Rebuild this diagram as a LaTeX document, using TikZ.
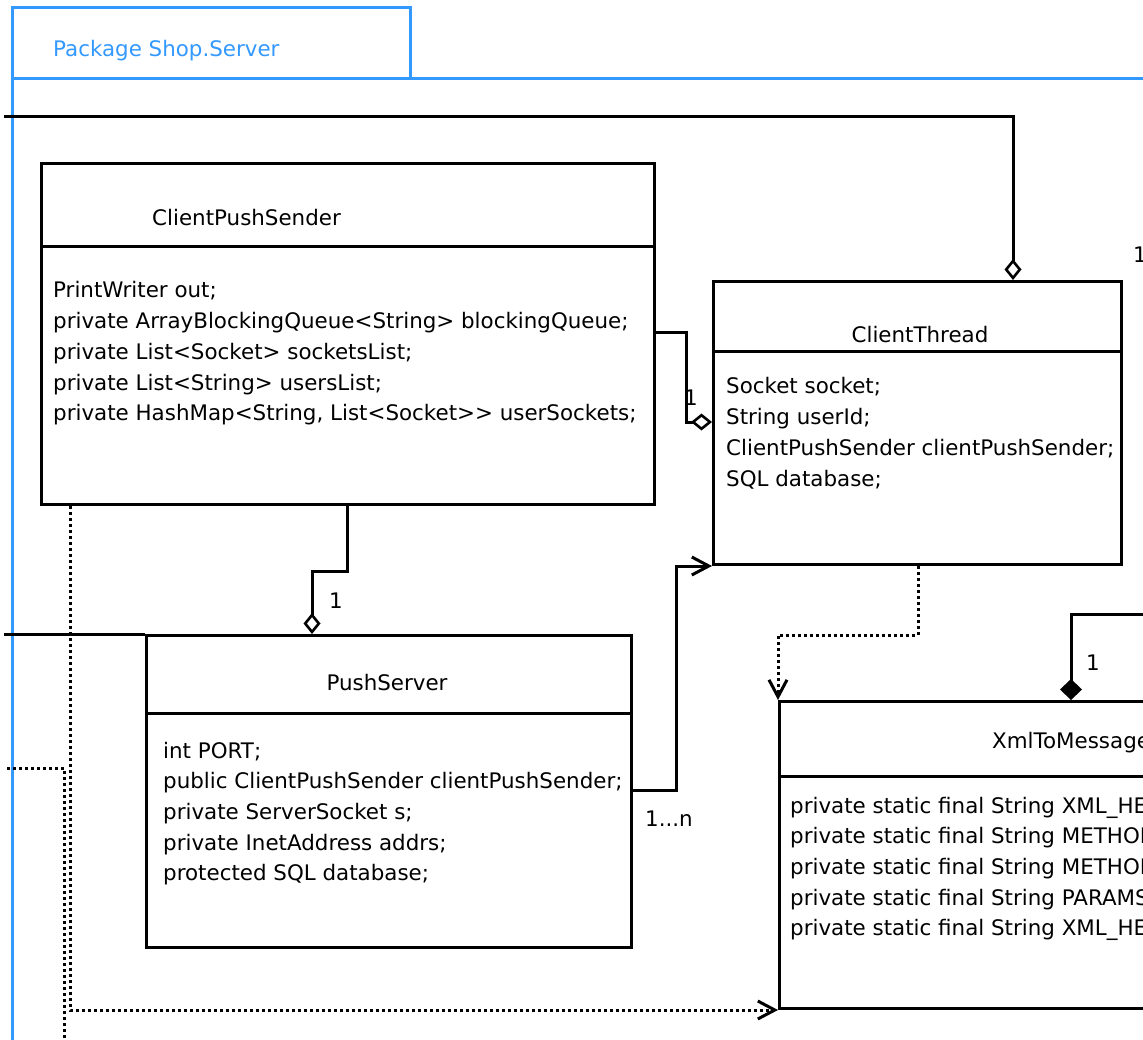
\documentclass[tikz,border=0pt]{standalone}
\usepackage{fontspec}
\setmainfont{DejaVu Sans}
\usetikzlibrary{arrows.meta,calc}
\definecolor{pkgblue}{HTML}{3399FF}
\newcommand{\attrlines}[1]{\begin{tabular}[t]{@{}l@{}}#1\end{tabular}}
\begin{document}
\begin{tikzpicture}[x=1pt,y=-1pt,
  font=\fontsize{21.4}{30.7}\selectfont,
  pkg/.style={draw=pkgblue, line width=3pt},
  umlline/.style={draw=black, line width=3pt},
  classbox/.style={draw=black, line width=3pt, anchor=north west, inner sep=0pt},
  txt/.style={anchor=base west, inner sep=0pt, text=black},
  ctitle/.style={anchor=base, inner sep=0pt, text=black},
  dep/.style={draw=black, line width=3pt, dash pattern=on 3pt off 3pt},
  openvee/.style={-{Straight Barb[length=17pt,width=18pt,line width=3pt]}},
  aggr/.style={-{Diamond[open,length=21pt,width=17pt,line width=2.6pt]}},
  compo/.style={-{Diamond[length=21pt,width=22pt]}},
]
\useasboundingbox (0,0) rectangle (1143,1040);
\clip (0,0) rectangle (1143,1040);

% package frame and tab
\draw[pkg] (12,8) rectangle (410,79);
\draw[pkg] (1200,79) -- (12,79) -- (12,1100);
\node[txt, text=pkgblue] (pkgname) at (53,57) {Package Shop.Server};

% free ends of connectors leaving the frame
\coordinate (topin) at (4,117);
\coordinate (psin) at (4,634);
\coordinate (leftin) at (7,768);
\coordinate (leftout) at (64,1060);
\coordinate (xmlout) at (1160,614);

% ClientPushSender
\node[classbox, minimum width=613pt, minimum height=341pt] (cps) at (40,162) {};
\draw[umlline] (40,247) -- (653,247);
\node[txt] (cpsname) at (152,226) {ClientPushSender};
\node[txt] (cpsattr) at (53,298) {\attrlines{%
PrintWriter out;\\
private ArrayBlockingQueue<String> blockingQueue;\\
private List<Socket> socketsList;\\
private List<String> usersList;\\
private HashMap<String, List<Socket>{}> userSockets;}};

% ClientThread
\node[classbox, minimum width=408pt, minimum height=283pt] (ct) at (712,280) {};
\draw[umlline] (712,352) -- (1120,352);
\node[ctitle] (ctname) at (920,343) {ClientThread};
\node[txt] (ctattr) at (726,394) {\attrlines{%
Socket socket;\\
String userId;\\
ClientPushSender clientPushSender;\\
SQL database;}};

% PushServer
\node[classbox, minimum width=485pt, minimum height=312pt] (ps) at (145,634) {};
\draw[umlline] (145,713) -- (630,713);
\node[ctitle] (psname) at (387,690) {PushServer};
\node[txt] (psattr) at (163,758) {\attrlines{%
int PORT;\\
public ClientPushSender clientPushSender;\\
private ServerSocket s;\\
private InetAddress addrs;\\
protected SQL database;}};

% XmlToMessage
\node[classbox, minimum width=700pt, minimum height=307pt] (xml) at (778,700) {};
\draw[umlline] (778,776) -- (1200,776);
\node[txt] (xmlname) at (992,748) {XmlToMessage};
\node[txt] (xmlattr) at (790,813) {\attrlines{%
private static final String XML\_HEADER;\\
private static final String METHOD\_CALL;\\
private static final String METHOD\_NAME;\\
private static final String PARAMS;\\
private static final String XML\_HEADER\_END;}};

% associations
\draw[umlline, aggr] (topin) -| ($(ct.north west)+(301,0)$);
\draw[umlline, aggr] ($(cps.north east)+(0,171)$) -- ++(30,0) |- ($(ct.north west)+(0,142)$);
\draw[umlline, aggr] ($(cps.south west)+(307,0)$) -- ++(0,65) -- ++(-35,0) -- ($(ps.north west)+(167,0)$);
\draw[umlline] (psin) -- (ps.north west);
\draw[umlline, openvee] ($(ps.north east)+(0,156)$) -- ++(43,0) |- (ct.south west);
\draw[umlline, compo] (xmlout) -| ($(xml.north west)+(293,0)$);

% dependencies
\draw[dep, openvee] ($(ct.south west)+(206,0)$) -- ++(0,69) -| (xml.north west);
\draw[dep, openvee] ($(cps.south west)+(30,0)$) |- (xml.south west);
\draw[dep] (leftin) -| (leftout);

% multiplicities
\node[txt] (m1) at (684,406) {1};
\node[txt] (m2) at (329,608) {1};
\node[txt] (m3) at (645,826) {1...n};
\node[txt] (m4) at (1086,670) {1};
\node[txt] (m5) at (1133,263) {1};
\end{tikzpicture}
\end{document}
